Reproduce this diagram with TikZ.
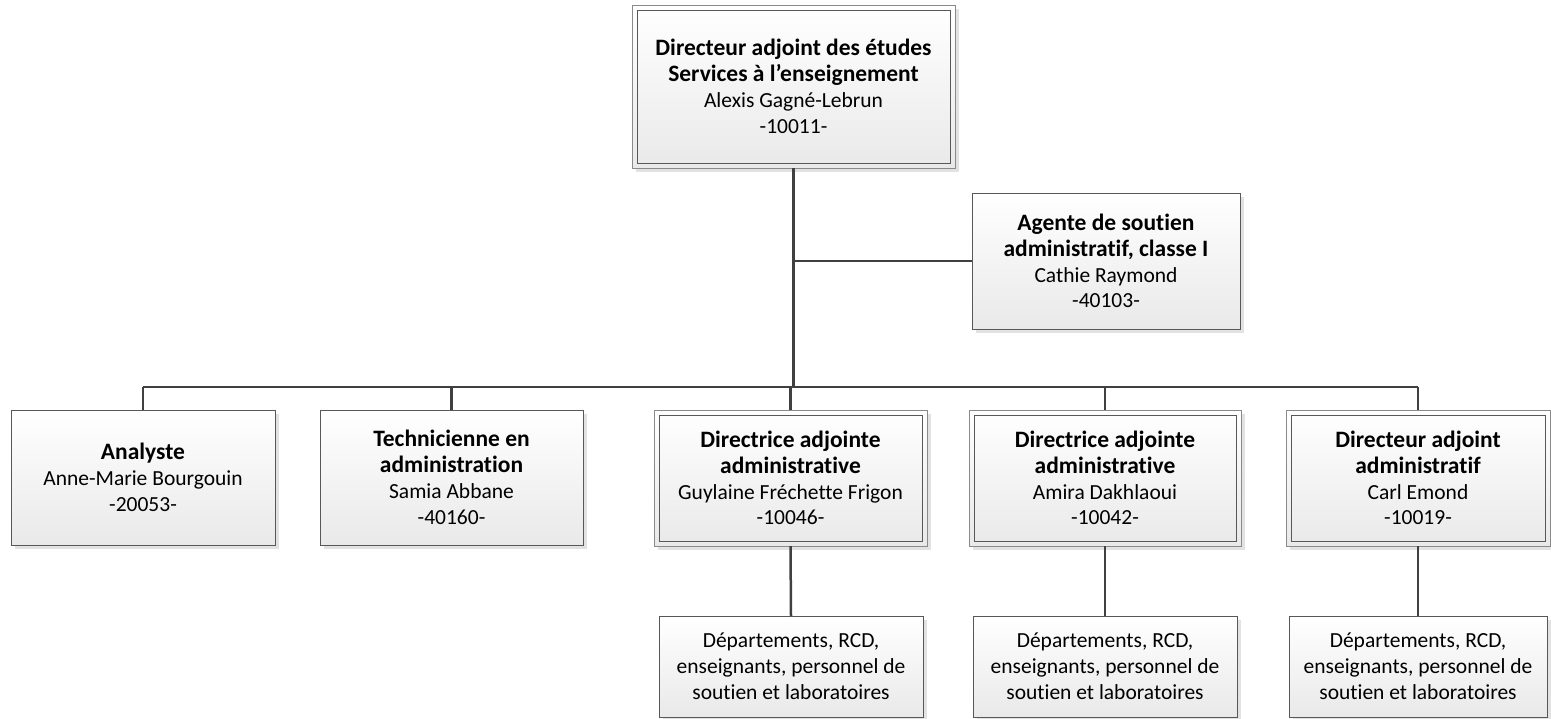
\documentclass[tikz,border=0pt]{standalone}
\usepackage{fontspec}
\setmainfont{Carlito}[Ligatures=NoCommon]
\usetikzlibrary{calc,shadows}
\definecolor{boxborder}{RGB}{88,88,88}
\definecolor{outerborder}{RGB}{138,138,138}
\definecolor{linkgray}{RGB}{64,64,64}
\definecolor{shadowgray}{RGB}{226,226,226}
\definecolor{boxbottom}{RGB}{233,233,233}
\newcommand{\poste}[1]{{\fontsize{23.5}{26}\selectfont\bfseries #1}}
\tikzset{
orgbox/.style={draw=boxborder, line width=1pt, top color=white, bottom color=boxbottom,
  align=center, inner sep=0pt, outer sep=0pt, font=\fontsize{21.5}{25.8}\selectfont,
  drop shadow={shadow xshift=4pt, shadow yshift=-4pt, fill=shadowgray, opacity=1}},
dblbox/.style={orgbox, draw=outerborder},
innerline/.style={draw=boxborder, line width=1pt},
link/.style={draw=linkgray, line width=2.5pt},
trunk/.style={link, line width=3pt}
}

\begin{document}
\begin{tikzpicture}[x=1pt,y=-1pt]
\useasboundingbox (0,0) rectangle (1551,718);

\node[dblbox, minimum width=323pt, minimum height=163pt] (dae) at (793.5,86.5)
{\poste{Directeur adjoint des études}\\\poste{Services à l’enseignement}\\Alexis Gagné-Lebrun\\-10011-};

\node[orgbox, minimum width=268pt, minimum height=136pt] (agent) at (1106,261)
{\poste{Agente de soutien}\\\poste{administratif, classe I}\\Cathie Raymond\\-40103-};

\node[orgbox, minimum width=264pt, minimum height=135pt] (analyste) at (143,477.5)
{\poste{Analyste}\\Anne-Marie Bourgouin\\-20053-};
\node[orgbox, minimum width=263pt, minimum height=135pt] (tech) at (451.5,477.5)
{\poste{Technicienne en}\\\poste{administration}\\Samia Abbane\\-40160-};

\node[dblbox, minimum width=273pt, minimum height=136pt] (dirA) at (790.5,478)
{\poste{Directrice adjointe}\\\poste{administrative}\\Guylaine Fréchette Frigon\\-10046-};
\node[dblbox, minimum width=272pt, minimum height=136pt] (dirB) at (1105,478)
{\poste{Directrice adjointe}\\\poste{administrative}\\Amira Dakhlaoui\\-10042-};
\node[dblbox, minimum width=264pt, minimum height=136pt] (dirC) at (1418,478)
{\poste{Directeur adjoint}\\\poste{administratif}\\Carl Emond\\-10019-};

\foreach \n in {dae,dirA,dirB,dirC} {
  \draw[innerline] ($(\n.north west)+(5,5)$) rectangle ($(\n.south east)+(-5,-5)$);
}

\node[orgbox, minimum width=264pt, minimum height=101pt] (deptA) at (791,666.5)
{Départements, RCD,\\enseignants, personnel de\\soutien et laboratoires};
\node[orgbox, minimum width=264pt, minimum height=101pt] (deptB) at (1105,666.5)
{Départements, RCD,\\enseignants, personnel de\\soutien et laboratoires};
\node[orgbox, minimum width=258pt, minimum height=101pt] (deptC) at (1418,666.5)
{Départements, RCD,\\enseignants, personnel de\\soutien et laboratoires};

\coordinate (bus) at (793,387);

\draw[trunk] (dae.south) -- (dae.south |- bus);
\draw[link] (dae.south |- agent.west) -- (agent.west);
\draw[link] (analyste.north |- bus) -- (dirC.north |- bus);

\foreach \n in {analyste,tech,dirA,dirB,dirC} {
  \draw[link] (\n.north |- bus) -- (\n.north);
}

\foreach \n/\m in {dirA/deptA, dirB/deptB, dirC/deptC} {
  \draw[link] (\n.south) -- (\m.north);
}

\end{tikzpicture}
\end{document}
